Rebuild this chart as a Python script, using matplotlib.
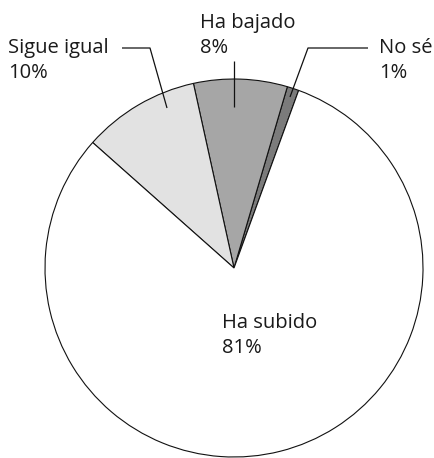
import matplotlib
matplotlib.use("Agg")
import matplotlib.pyplot as plt

# données du graphique
etiquettes = ["No sé", "Ha bajado", "Sigue igual", "Ha subido"]
valeurs = [1, 8, 10, 81]
couleurs = ["#7b7b7b", "#a6a6a6", "#e2e2e2", "#ffffff"]

W, H = 435, 458
plt.rcParams['font.family'] = ['Open Sans', 'DejaVu Sans']

fig = plt.figure(figsize=(W / 100, H / 100), dpi=100)
ax = fig.add_axes([0, 0, 1, 1])


def py(y):
    # coordonnées en pixels (origine en haut) -> données
    return H - y


ax.pie(valeurs, colors=couleurs, startangle=70, counterclock=True,
       center=(234, py(268)), radius=189, frame=True,
       wedgeprops=dict(edgecolor="#111111", linewidth=0.8))
ax.set_xlim(0, W)
ax.set_ylim(0, H)
ax.axis("off")

# position du texte (x, ligne de base 1, ligne de base 2) et traits de rappel
textes = {
    "Sigue igual": (8, 53, 78),
    "Ha bajado": (200, 28, 53),
    "No sé": (379, 53, 78),
    "Ha subido": (222, 328, 353),
}
traits = {
    "Sigue igual": [(122, 48), (150, 48), (167, 108)],
    "Ha bajado": [(234, 61), (234, 107)],
    "No sé": [(368, 48), (308, 48), (290, 97)],
}

for nom, val in zip(etiquettes, valeurs):
    x, y1, y2 = textes[nom]
    ax.text(x, py(y1), nom, fontsize=14.5, color="#1a1a1a", va="baseline", ha="left")
    ax.text(x, py(y2), f"{val}%", fontsize=14.5, color="#1a1a1a", va="baseline", ha="left")
    if nom in traits:
        pts = traits[nom]
        ax.plot([p[0] for p in pts], [py(p[1]) for p in pts],
                color="#111111", linewidth=0.9, solid_capstyle="butt")

fig.savefig("out.png", dpi=100)
